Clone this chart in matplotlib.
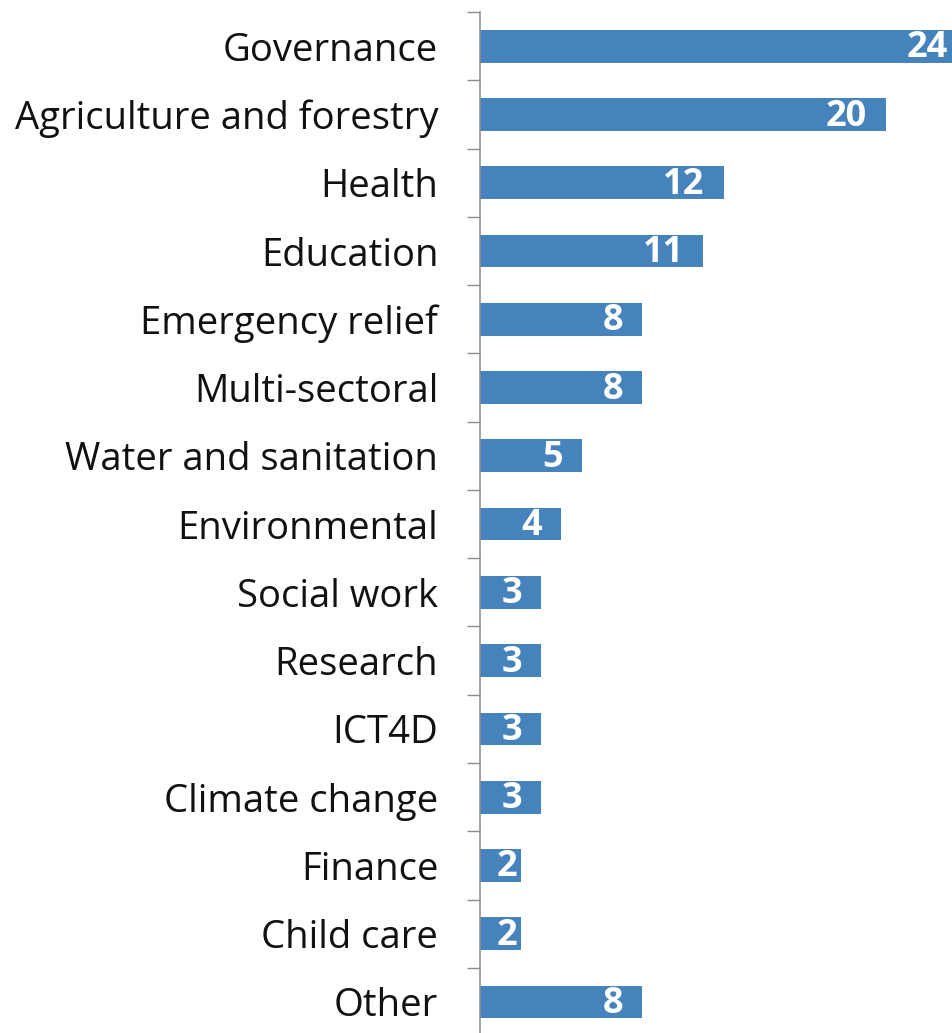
import numpy as np
import matplotlib.pyplot as plt

categories = ["Governance", "Agriculture and forestry", "Health", "Education",
              "Emergency relief", "Multi-sectoral", "Water and sanitation",
              "Environmental", "Social work", "Research", "ICT4D",
              "Climate change", "Finance", "Child care", "Other"]
values = [24, 20, 12, 11, 8, 8, 5, 4, 3, 3, 3, 3, 2, 2, 8]

bar_color = "#4683bd"
axis_color = "#8c8c8c"

def main():
    fig = plt.figure(figsize=(9.53, 10.33), dpi=100)
    ax = fig.add_axes([0.5037, -0.003, 0.4963, 0.9913])

    pos = np.arange(len(categories))
    ax.barh(pos, values, height=0.48, color=bar_color)

    # value labels inside the end of each bar
    for y, v in zip(pos, values):
        pad = 0.94 if v >= 3 else 0.18
        ax.text(v - pad, y + 0.03, str(v), ha="right", va="center",
                color="white", fontsize=26, fontweight="bold",
                family="Open Sans")

    ax.set_xlim(0, 23.3)
    ax.set_ylim(len(categories) - 0.5, -0.5)

    ax.set_yticks(pos)
    ax.set_yticklabels(categories, fontsize=27.5, family="Open Sans", color="#111111")
    ax.set_yticks(np.arange(len(categories) + 1) - 0.5, minor=True)
    ax.tick_params(axis="y", which="major", length=0, pad=30)
    ax.tick_params(axis="y", which="minor", length=9.4, width=1, color=axis_color,
                   direction="out")
    ax.set_xticks([])

    for s in ["top", "right", "bottom"]:
        ax.spines[s].set_visible(False)
    ax.spines["left"].set_color(axis_color)
    ax.spines["left"].set_linewidth(1.1)

    fig.savefig("out.png", dpi=100)

if __name__ == "__main__":
    main()
